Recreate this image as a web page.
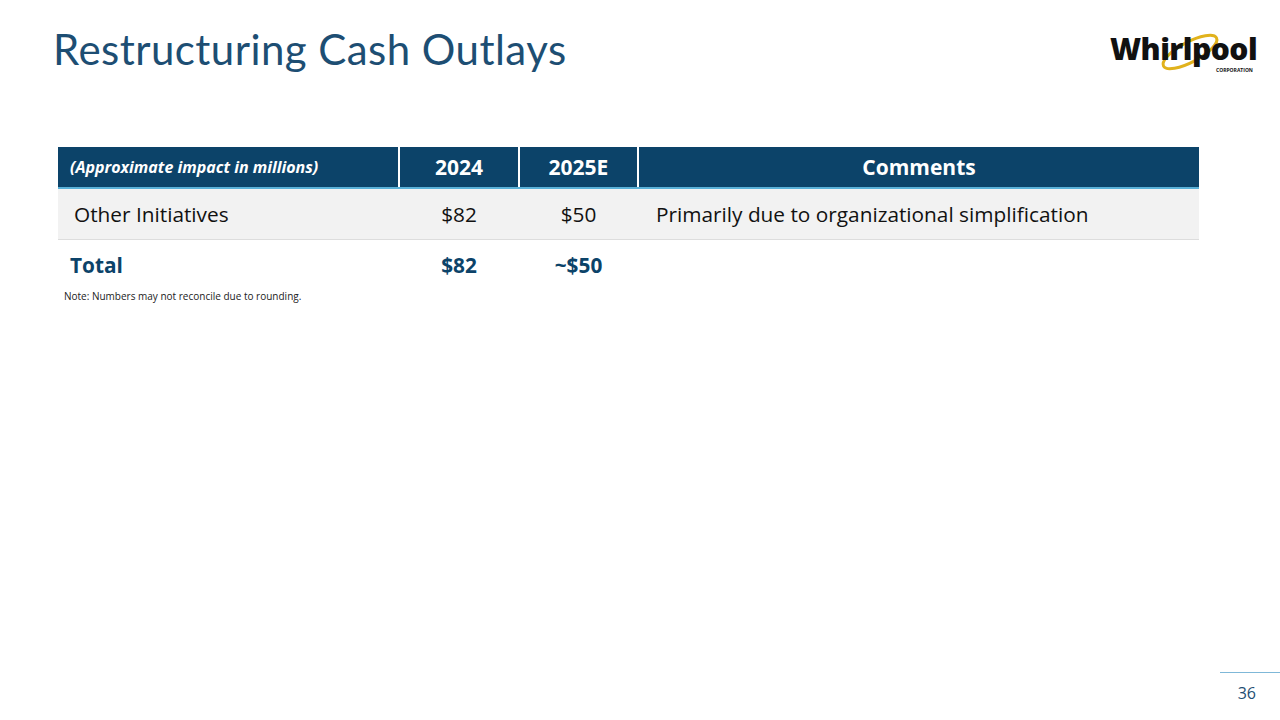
<!DOCTYPE html>
<html>
<head>
<meta charset="utf-8">
<script src="https://cdn.jsdelivr.net/npm/chart.js@4"></script>
<style>
  body { margin:0; width:1280px; height:720px; background:#fff; font-family:"Open Sans","Noto Sans",sans-serif; position:relative; overflow:hidden; }
  h1 { position:absolute; left:53px; top:24px; margin:0; font-family:"Lato","Open Sans",sans-serif; font-weight:400; font-size:42px; color:#1d4e73; letter-spacing:0.45px; }
  #logo { position:absolute; left:1108px; top:26px; width:152px; height:54px; }
  table { position:absolute; left:58px; top:147px; width:1141px; border-collapse:collapse; table-layout:fixed; }
  th, td { box-sizing:border-box; }
  th { background:#0c4369; color:#fff; height:41px; font-size:21px; font-weight:700; border-right:2px solid #fff; border-bottom:2px solid #5ab1d8; padding:0; }
  th:last-child { border-right:none; }
  th.lead { font-size:16px; font-style:italic; text-align:left; padding-left:12px; }
  td { height:51px; font-size:20.8px; padding:0; }
  tr.row td { background:#f2f2f2; color:#111; border-bottom:1px solid #ddd; }
  tr.total td { color:#0c4369; font-weight:700; }
  .c { text-align:center; }
  #note { position:absolute; left:64px; top:289px; font-size:10px; color:#222; }
  #pg { position:absolute; right:24px; top:682px; font-size:16px; color:#1d4e73; }
  #pgline { position:absolute; left:1220px; top:672px; width:60px; border-top:1px solid #7fb8d8; }
</style>
</head>
<body>
<h1>Restructuring Cash Outlays</h1>
<svg id="logo" viewBox="0 0 152 54">
  <ellipse cx="82" cy="26" rx="30" ry="10" transform="rotate(-28 82 26)" fill="none" stroke="#e1b21c" stroke-width="3"/>
  <text x="2" y="34" font-family="Open Sans" font-weight="800" font-size="30" fill="#111" letter-spacing="-1.6" textLength="146">Whirlpool</text>
  <text x="108" y="46" font-family="Open Sans" font-weight="700" font-size="5" fill="#111">CORPORATION</text>
</svg>
<table id="tbl"></table>
<div id="note"></div>
<div id="pgline"></div>
<div id="pg">36</div>
<script>
const headers = ['(Approximate impact in millions)', '2024', '2025E', 'Comments'];
const rowLabels = ['Other Initiatives'];
const values2024 = ['$82'];
const values2025 = ['$50'];
const comments = ['Primarily due to organizational simplification'];
const totalLabel = 'Total';
const total2024 = '$82';
const total2025 = '~$50';
const note = 'Note: Numbers may not reconcile due to rounding.';

const widths = [341, 120, 119, 561];
const tbl = document.getElementById('tbl');
let html = '<tr>' + headers.map((h, i) =>
  `<th class="${i === 0 ? 'lead' : ''}" style="width:${widths[i]}px">${h}</th>`).join('') + '</tr>';
rowLabels.forEach((r, i) => {
  html += `<tr class="row"><td style="padding-left:16px">${r}</td><td class="c">${values2024[i]}</td>` +
    `<td class="c">${values2025[i]}</td><td style="padding-left:18px">${comments[i]}</td></tr>`;
});
html += `<tr class="total"><td style="padding-left:12px">${totalLabel}</td><td class="c">${total2024}</td>` +
  `<td class="c">${total2025}</td><td></td></tr>`;
tbl.innerHTML = html;
document.getElementById('note').textContent = note;
</script>
</body>
</html>
